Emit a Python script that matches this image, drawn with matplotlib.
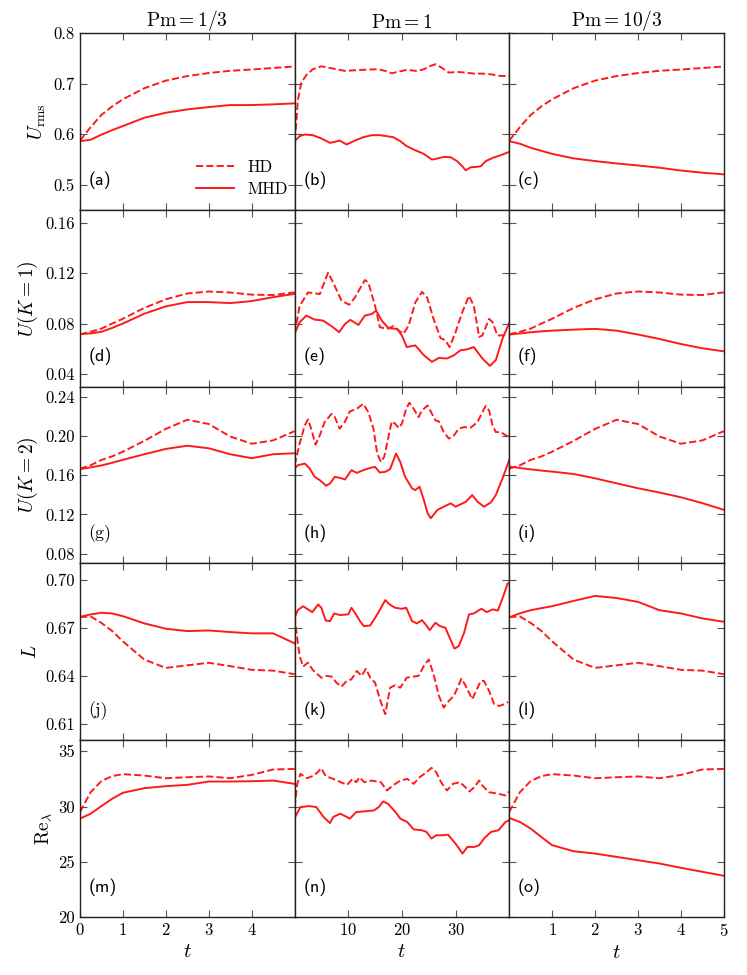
import matplotlib
matplotlib.use("Agg")
import matplotlib.pyplot as plt
from matplotlib.ticker import FormatStrFormatter

plt.rcParams['font.family'] = 'cmr10'
plt.rcParams['mathtext.fontset'] = 'cm'
plt.rcParams['axes.formatter.use_mathtext'] = True

# time grid for the short runs (Pm = 1/3 and Pm = 10/3)
t_short = [0, 0.25, 0.5, 0.75, 1, 1.5, 2, 2.5, 3, 3.5, 4, 4.5, 5]

# row 1: U_rms
urms_hd = [0.587, 0.614, 0.638, 0.655, 0.669, 0.691, 0.706, 0.715, 0.721, 0.7255, 0.728, 0.731, 0.734]
urms_mhd_a = [0.586, 0.589, 0.599, 0.608, 0.616, 0.6325, 0.6424, 0.649, 0.6536, 0.6576, 0.6576, 0.659, 0.661]
urms_mhd_c = [0.586, 0.581, 0.573, 0.567, 0.561, 0.552, 0.5467, 0.542, 0.538, 0.5336, 0.528, 0.5237, 0.5204]

# row 2: U(K=1)
uk1_hd = [0.0715, 0.0735, 0.076, 0.080, 0.0838, 0.0924, 0.0992, 0.1038, 0.1054, 0.1046, 0.1029, 0.1026, 0.1047]
uk1_mhd_d = [0.0716, 0.0722, 0.0735, 0.0765, 0.080, 0.0878, 0.0936, 0.097, 0.097, 0.0962, 0.0978, 0.1009, 0.1035]
uk1_mhd_f = [0.0713, 0.0722, 0.0731, 0.0738, 0.0744, 0.0752, 0.0758, 0.0744, 0.0713, 0.0678, 0.0638, 0.0604, 0.058]

# row 3: U(K=2)
uk2_hd = [0.1665, 0.170, 0.1754, 0.179, 0.1838, 0.1948, 0.207, 0.2163, 0.212, 0.1993, 0.1919, 0.1953, 0.2047]
uk2_mhd_g = [0.1661, 0.1678, 0.1698, 0.1725, 0.1755, 0.1812, 0.1866, 0.1899, 0.1873, 0.1812, 0.1772, 0.1812, 0.1822]
uk2_mhd_i = [0.1686, 0.1672, 0.1658, 0.1646, 0.1635, 0.1611, 0.1567, 0.1516, 0.1466, 0.1422, 0.1374, 0.1314, 0.1246]

# row 4: L
l_hd = [0.6766, 0.677, 0.673, 0.668, 0.6615, 0.6502, 0.645, 0.6466, 0.6482, 0.6461, 0.6438, 0.6433, 0.6411]
l_mhd_j = [0.6768, 0.6783, 0.6793, 0.6789, 0.6772, 0.6727, 0.6694, 0.6679, 0.6683, 0.6673, 0.6665, 0.6665, 0.6603]
l_mhd_l = [0.6764, 0.679, 0.6809, 0.6822, 0.6834, 0.6867, 0.6898, 0.6885, 0.6861, 0.6809, 0.6789, 0.6758, 0.6737]

# row 5: Re_lambda
re_hd = [29.5, 31.3, 32.3, 32.75, 32.93, 32.8, 32.56, 32.65, 32.72, 32.56, 32.86, 33.35, 33.4]
re_mhd_m = [28.9, 29.35, 30.04, 30.7, 31.24, 31.66, 31.84, 31.96, 32.26, 32.26, 32.29, 32.35, 32.05]
re_mhd_o = [28.96, 28.6, 28.0, 27.24, 26.5, 25.95, 25.74, 25.44, 25.14, 24.84, 24.45, 24.09, 23.73]

# Pm = 1 (long run), panel (b)
t_b_hd = [0, 0.3, 0.6, 1.25, 2.2, 3.4, 5, 6.25, 7.8, 9.4, 11.25, 13.4, 15.6, 16.9, 18.1, 19.4, 20.9,
          22.8, 24.1, 25.3, 26.25, 27.2, 28.75, 30.3, 31.9, 33.4, 35, 36.6, 38.4, 40]
u_b_hd = [0.587, 0.619, 0.666, 0.702, 0.717, 0.7285, 0.7344, 0.7318, 0.7285, 0.7252, 0.7265, 0.7278,
          0.7285, 0.7252, 0.7205, 0.7238, 0.7272, 0.7252, 0.7285, 0.7351, 0.7384, 0.7331, 0.7219,
          0.7232, 0.7219, 0.7199, 0.7199, 0.7185, 0.7152, 0.7152]
t_b_mhd = [0, 0.94, 1.9, 3.4, 5, 6.6, 7.5, 8.4, 9.7, 11.25, 12.8, 14.4, 15.9, 17.2, 18.4, 19.7, 20.9,
           22.2, 24.1, 25.6, 26.6, 27.8, 29.1, 30.3, 31.25, 31.9, 32.8, 33.75, 34.7, 35.6, 36.9, 38.4, 40]
u_b_mhd = [0.586, 0.596, 0.5993, 0.598, 0.5914, 0.5828, 0.5848, 0.5874, 0.5795, 0.5874, 0.594, 0.598,
           0.598, 0.596, 0.594, 0.5861, 0.5762, 0.5695, 0.5609, 0.5497, 0.5517, 0.555, 0.5543, 0.5464,
           0.5364, 0.5285, 0.5344, 0.5351, 0.5364, 0.5464, 0.553, 0.5583, 0.5649]

# panel (e)
t_e_hd = [0, 0.94, 2.5, 3.75, 4.7, 6.25, 7.2, 8.75, 10.2, 11.25, 13.1, 13.75, 15, 15.9, 17.2, 18.4,
          19.4, 20.3, 21.25, 22.5, 23.75, 24.7, 25.9, 27.2, 28.1, 28.9, 30, 31.25, 32.5, 33.4, 34.4,
          35, 36.25, 36.9, 37.8, 38.75, 39.7]
u_e_hd = [0.0719, 0.094, 0.1046, 0.104, 0.1033, 0.1203, 0.1124, 0.098, 0.0949, 0.1007, 0.1145, 0.1124,
          0.094, 0.0771, 0.0758, 0.0779, 0.0745, 0.0719, 0.0784, 0.0967, 0.1051, 0.1007, 0.0837,
          0.0685, 0.0667, 0.0614, 0.0732, 0.0889, 0.102, 0.0941, 0.0693, 0.0706, 0.0837, 0.0811,
          0.0706, 0.0706, 0.0719]
t_e_mhd = [0, 0.94, 2.2, 3.75, 5.3, 6.9, 8.3, 9.4, 10.4, 11.9, 13.1, 14.4, 15.2, 16.25, 17.5, 19.1,
           20, 20.9, 22.5, 24.1, 25.6, 26.9, 28.4, 29.7, 30.9, 32.2, 33.4, 35, 36.4, 37.5, 38.75, 40]
u_e_mhd = [0.0719, 0.081, 0.0863, 0.0831, 0.0824, 0.0779, 0.0732, 0.0797, 0.0829, 0.0789, 0.0863,
           0.0876, 0.0902, 0.0824, 0.0763, 0.0758, 0.0706, 0.0614, 0.0627, 0.0549, 0.0497, 0.0528,
           0.0523, 0.0549, 0.0588, 0.0596, 0.0614, 0.0523, 0.0465, 0.051, 0.068, 0.0805]

# panel (h)
t_h_hd = [0, 0.94, 1.9, 2.5, 3.1, 3.9, 4.7, 5.6, 6.9, 7.5, 8.4, 9.4, 10.3, 11.6, 12.8, 13.75, 14.7,
          15.4, 16.1, 16.7, 17.5, 18.1, 18.75, 19.4, 20, 20.8, 21.4, 22.2, 23.1, 23.75, 24.8, 25.6,
          26.25, 26.9, 27.8, 28.75, 29.7, 30.6, 31.6, 32.8, 34.1, 35, 35.6, 36.25, 36.9, 37.5, 38.4,
          39.4, 40]
u_h_hd = [0.170, 0.192, 0.2106, 0.2167, 0.2072, 0.191, 0.2004, 0.214, 0.2224, 0.219, 0.2072, 0.2146,
          0.2248, 0.2275, 0.2326, 0.2241, 0.2072, 0.1819, 0.1734, 0.1785, 0.1988, 0.2146, 0.2123,
          0.2079, 0.2123, 0.2275, 0.2336, 0.2275, 0.219, 0.2258, 0.2309, 0.2224, 0.2157, 0.2146,
          0.2038, 0.1971, 0.2004, 0.2072, 0.2089, 0.2082, 0.214, 0.2241, 0.2302, 0.2258, 0.2106,
          0.2038, 0.2038, 0.2004, 0.1988]
t_h_mhd = [0, 0.6, 1.9, 2.8, 3.75, 4.7, 5.9, 6.6, 7.5, 8.4, 9.4, 10.6, 11.6, 12.8, 14.1, 15, 15.9,
           16.9, 17.8, 18.9, 19.7, 20.6, 21.9, 22.5, 23.3, 24.1, 24.8, 25.4, 26.6, 27.8, 29.1, 30,
           30.9, 31.9, 33.1, 34.1, 35.3, 36.6, 37.5, 38.75, 40]
u_h_mhd = [0.1667, 0.170, 0.1717, 0.1667, 0.1582, 0.1548, 0.1491, 0.1514, 0.1582, 0.1572, 0.1555,
           0.165, 0.1622, 0.165, 0.1673, 0.1683, 0.1626, 0.1633, 0.166, 0.1819, 0.1734, 0.1582,
           0.1464, 0.1447, 0.1481, 0.1345, 0.121, 0.116, 0.1244, 0.1278, 0.1312, 0.1278, 0.1301,
           0.1328, 0.1396, 0.1328, 0.1278, 0.1322, 0.1396, 0.1565, 0.1751]

# panel (k)
t_k_hd = [0, 0.44, 0.94, 1.6, 2.5, 3.4, 5, 5.9, 6.9, 7.8, 8.75, 9.7, 10.6, 11.6, 12.5, 13.3, 14.1,
          15, 15.9, 16.9, 17.8, 18.75, 19.7, 20.9, 22.2, 23.1, 24.1, 25, 25.9, 26.9, 27.8, 28.75,
          29.7, 31.1, 31.9, 33.1, 34.7, 35.3, 36.25, 37.2, 38.1, 39.1, 39.8]
l_k_hd = [0.6772, 0.6648, 0.6524, 0.6458, 0.6483, 0.6437, 0.6389, 0.640, 0.6396, 0.6358, 0.6333,
          0.6369, 0.6379, 0.6431, 0.640, 0.6445, 0.6389, 0.6358, 0.6255, 0.6162, 0.6327, 0.6342,
          0.6327, 0.6389, 0.6396, 0.640, 0.6462, 0.6503, 0.641, 0.6276, 0.6203, 0.6245, 0.6276,
          0.6383, 0.6338, 0.6255, 0.6369, 0.6369, 0.6307, 0.6224, 0.6213, 0.6224, 0.6238]
t_k_mhd = [0, 0.6, 1.6, 2.5, 3.3, 4.4, 5, 5.8, 6.6, 7.4, 8.4, 10, 10.6, 11.25, 12.2, 12.9, 14.1,
           15.6, 16.9, 17.7, 18.75, 20, 20.8, 21.9, 22.8, 23.75, 24.4, 25.2, 26.25, 27.1, 28.1,
           28.9, 29.8, 30.6, 31.6, 32.5, 33.4, 34.8, 35.8, 36.9, 37.9, 38.9, 39.7, 40]
l_k_mhd = [0.6762, 0.681, 0.6834, 0.6814, 0.6797, 0.6845, 0.6824, 0.6745, 0.6741, 0.6789, 0.6779,
           0.6783, 0.6824, 0.6793, 0.6741, 0.671, 0.6714, 0.6793, 0.6872, 0.6845, 0.6824, 0.6818,
           0.6824, 0.6741, 0.6727, 0.6747, 0.6721, 0.6685, 0.6731, 0.671, 0.670, 0.6638, 0.657,
           0.6586, 0.6669, 0.6783, 0.6789, 0.6818, 0.6797, 0.6814, 0.6807, 0.6897, 0.6975, 0.6975]

# panel (n)
t_n_hd = [0, 0.5, 1.1, 2.3, 3.6, 4.3, 4.95, 5.8, 7.2, 8.9, 9.8, 10.8, 11.5, 12.1, 13, 14.3, 16.1,
          17.2, 18.3, 19.7, 21, 22.2, 23.3, 24.6, 25.5, 26.4, 27.3, 28.4, 29.5, 30.8, 31.5, 32.6,
          33.5, 34.4, 35, 36.2, 38, 39.3, 40]
re_n_hd = [29.9, 32.05, 32.96, 32.56, 32.8, 33.1, 33.47, 32.75, 32.5, 32.14, 31.96, 32.5, 32.2,
           32.65, 32.2, 32.35, 32.2, 31.45, 31.9, 32.35, 32.5, 32.05, 32.65, 33.1, 33.5, 33.1, 32.2,
           31.45, 32.05, 32.2, 31.9, 31.36, 31.75, 32.35, 31.9, 31.3, 31.15, 31.0, 31.36]
t_n_mhd = [0, 1.1, 2.7, 4.05, 5.4, 6.6, 7.2, 8.5, 9.4, 10.3, 11.5, 13, 14.8, 15.7, 16.5, 17.4, 18.8,
           19.7, 21, 22.2, 23.7, 24.6, 25.5, 26.4, 27.7, 28.6, 30, 31.3, 32.2, 33.5, 34.4, 35.3,
           36.6, 38, 39.3, 40]
re_n_mhd = [28.96, 29.95, 30.04, 29.95, 29.05, 28.5, 29.05, 29.35, 29.14, 28.9, 29.5, 29.56, 29.65,
            29.95, 30.46, 30.25, 29.5, 28.9, 28.6, 27.93, 27.85, 27.7, 27.1, 27.4, 27.4, 27.45,
            26.64, 25.74, 26.34, 26.34, 26.5, 27.1, 27.7, 27.85, 28.6, 28.75]

pm_titles = [r'$\mathrm{Pm}=1/3$', r'$\mathrm{Pm}=1$', r'$\mathrm{Pm}=10/3$']
row_labels = [r'$U_{\rm rms}$', r'$U(K=1)$', r'$U(K=2)$', r'$L$', r'$\mathrm{Re}_\lambda$']
panel_letters = 'abcdefghijklmno'
serif_letters = 'gj'

rows = [
    (urms_hd, urms_mhd_a, (t_b_hd, u_b_hd, t_b_mhd, u_b_mhd), urms_mhd_c),
    (uk1_hd, uk1_mhd_d, (t_e_hd, u_e_hd, t_e_mhd, u_e_mhd), uk1_mhd_f),
    (uk2_hd, uk2_mhd_g, (t_h_hd, u_h_hd, t_h_mhd, u_h_mhd), uk2_mhd_i),
    (l_hd, l_mhd_j, (t_k_hd, l_k_hd, t_k_mhd, l_k_mhd), l_mhd_l),
    (re_hd, re_mhd_m, (t_n_hd, re_n_hd, t_n_mhd, re_n_mhd), re_mhd_o),
]
ylims = [(0.45, 0.8), (0.03, 0.17), (0.07, 0.25), (0.60, 0.71), (20, 36)]
yticks = [[0.5, 0.6, 0.7, 0.8], [0.04, 0.08, 0.12, 0.16], [0.08, 0.12, 0.16, 0.20, 0.24],
          [0.61, 0.64, 0.67, 0.70], [20, 25, 30, 35]]
yfmts = ['%.1f', '%.2f', '%.2f', '%.2f', '%d']

red = '#ff1a1a'
fig, axes = plt.subplots(5, 3, figsize=(7.47, 9.75), dpi=100, sharex='col', sharey='row')
fig.subplots_adjust(left=0.107, right=0.969, top=0.966, bottom=0.0595, wspace=0, hspace=0)

for r, (hd, mhd1, mid, mhd3) in enumerate(rows):
    ax1, ax2, ax3 = axes[r]
    ax1.plot(t_short, hd, '--', color=red, lw=1.4, label='HD')
    ax1.plot(t_short, mhd1, '-', color=red, lw=1.4, label='MHD')
    ax2.plot(mid[0], mid[1], '--', color=red, lw=1.4)
    ax2.plot(mid[2], mid[3], '-', color=red, lw=1.4)
    ax3.plot(t_short, hd, '--', color=red, lw=1.4)
    ax3.plot(t_short, mhd3, '-', color=red, lw=1.4)
    ax1.set_ylim(*ylims[r])
    ax1.set_yticks(yticks[r])
    ax1.yaxis.set_major_formatter(FormatStrFormatter(yfmts[r]))
    ax1.set_ylabel(row_labels[r], fontsize=14)
    for c, ax in enumerate(axes[r]):
        k = panel_letters[3 * r + c]
        fam = 'cmr10' if k in serif_letters else 'cmss10'
        ax.text(0.04, 0.17, '(%s)' % k, transform=ax.transAxes, fontsize=13,
                family=fam, va='center', ha='left')
        ax.tick_params(direction='in', top=True, right=True, length=5, width=0.8,
                       colors='#555555', labelcolor='black', labelsize=12)
        for s in ax.spines.values():
            s.set_color('#222222')
            s.set_linewidth(1.0)

axes[0, 0].legend(loc='upper left', bbox_to_anchor=(0.47, 0.37), frameon=False,
                  fontsize=12, handlelength=2.3, labelspacing=0.4)

axes[0, 0].set_xlim(0, 5)
axes[0, 0].set_xticks([0, 1, 2, 3, 4])
axes[0, 1].set_xlim(0, 40)
axes[0, 1].set_xticks([10, 20, 30])
axes[0, 2].set_xlim(0, 5)
axes[0, 2].set_xticks([1, 2, 3, 4, 5])

for c in range(3):
    axes[0, c].set_title(pm_titles[c], fontsize=14, pad=4)
    axes[4, c].set_xlabel(r'$t$', fontsize=15)

plt.savefig('out.png', dpi=100)
